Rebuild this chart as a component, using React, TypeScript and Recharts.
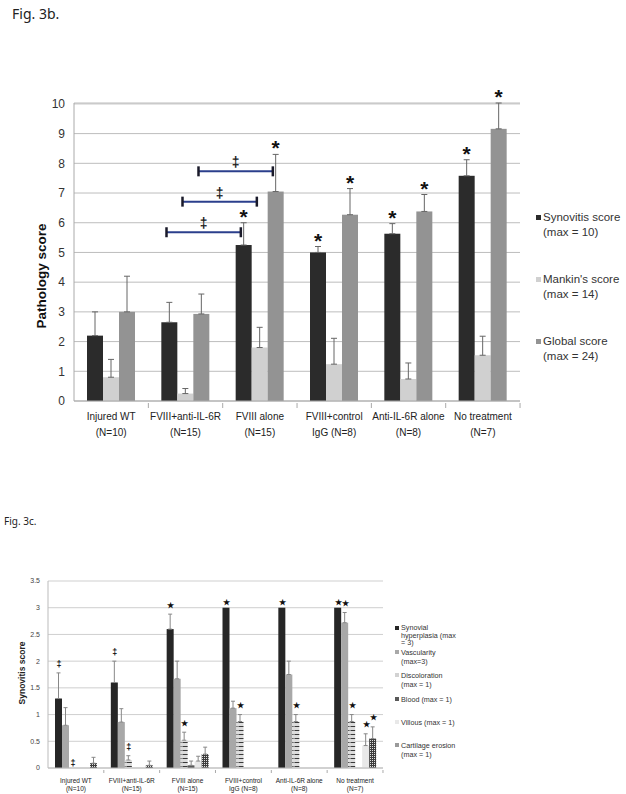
import React from 'react'
import {
  BarChart, Bar, XAxis, YAxis, CartesianGrid, ErrorBar, Legend, ReferenceLine,
} from 'recharts'

const groups = ['Injured WT', 'FVIII+anti-IL-6R', 'FVIII alone', 'FVIII+control', 'Anti-IL-6R alone', 'No treatment']
const groupSizes = ['(N=10)', '(N=15)', '(N=15)', 'IgG (N=8)', '(N=8)', '(N=7)']

// Fig. 3b – pathology scores (mean, upper SEM)
const synovitis = [2.2, 2.65, 5.25, 5.0, 5.63, 7.58]
const synovitisErr = [0.8, 0.67, 0.75, 0.2, 0.34, 0.54]
const mankin = [0.8, 0.25, 1.8, 1.24, 0.74, 1.54]
const mankinErr = [0.6, 0.17, 0.68, 0.87, 0.54, 0.64]
const globalScore = [3.0, 2.93, 7.05, 6.27, 6.38, 9.16]
const globalErr = [1.2, 0.67, 1.25, 0.88, 0.57, 0.87]
const synovitisMarks = ['', '', '*', '*', '*', '*']
const mankinMarks = ['', '', '', '', '', '']
const globalMarks = ['', '', '*', '*', '*', '*']
const pathologyTicks = [0, 1, 2, 3, 4, 5, 6, 7, 8, 9, 10]

// ‡ brackets: FVIII+anti-IL-6R vs FVIII alone, one per score
const bracketFrom = 'FVIII+anti-IL-6R'
const bracketTo = 'FVIII alone'
const bracketLevels = [5.68, 6.71, 7.73]

// Fig. 3c – synovitis sub-scores
const hyperplasia = [1.3, 1.6, 2.6, 3.0, 3.0, 3.0]
const hyperplasiaErr = [0.48, 0.4, 0.28, 0, 0, 0]
const vascularity = [0.8, 0.86, 1.67, 1.12, 1.75, 2.72]
const vascularityErr = [0.33, 0.25, 0.33, 0.13, 0.25, 0.19]
const discoloration = [0, 0.15, 0.52, 0.87, 0.87, 0.87]
const discolorationErr = [0, 0.08, 0.15, 0.13, 0.13, 0.13]
const blood = [0, 0, 0.05, 0, 0, 0]
const bloodErr = [0, 0, 0.08, 0, 0, 0]
const villous = [0, 0, 0.13, 0, 0, 0.42]
const villousErr = [0, 0, 0.09, 0, 0, 0.22]
const erosion = [0.09, 0.05, 0.26, 0, 0, 0.55]
const erosionErr = [0.11, 0.08, 0.13, 0, 0, 0.22]
const hyperplasiaMarks = ['‡', '‡', '★', '★', '★', '★']
const vascularityMarks = ['', '', '', '', '', '★']
const discolorationMarks = ['‡', '‡', '★', '★', '★', '★']
const bloodMarks = ['', '', '', '', '', '']
const villousMarks = ['', '', '', '', '', '★']
const erosionMarks = ['', '', '', '', '', '★']
const synovitisTicks = [0, 0.5, 1, 1.5, 2, 2.5, 3, 3.5]

const legend3b = [['Synovitis score', '(max = 10)'], ["Mankin's score", '(max = 14)'], ['Global score', '(max = 24)']]
const legend3c = [
  ['Synovial', 'hyperplasia (max', '= 3)'], ['Vascularity', '(max=3)'], ['Discoloration', '(max = 1)'],
  ['Blood (max = 1)'], ['Villous (max = 1)'], ['Cartilage erosion', '(max = 1)'],
]

const err = (e: number) => (e > 0 ? [0, e] : null)

const data3b = groups.map((name, i) => ({
  name,
  syn: synovitis[i], synErr: err(synovitisErr[i]), synMark: synovitisMarks[i],
  man: mankin[i], manErr: err(mankinErr[i]), manMark: mankinMarks[i],
  glo: globalScore[i], gloErr: err(globalErr[i]), gloMark: globalMarks[i],
}))

const data3c = groups.map((name, i) => ({
  name,
  hyp: hyperplasia[i], hypErr: err(hyperplasiaErr[i]), hypMark: hyperplasiaMarks[i],
  vas: vascularity[i], vasErr: err(vascularityErr[i]), vasMark: vascularityMarks[i],
  dis: discoloration[i], disErr: err(discolorationErr[i]), disMark: discolorationMarks[i],
  blo: blood[i], bloErr: err(bloodErr[i]), bloMark: bloodMarks[i],
  vil: villous[i], vilErr: err(villousErr[i]), vilMark: villousMarks[i],
  ero: erosion[i], eroErr: err(erosionErr[i]), eroMark: erosionMarks[i],
}))

const FONT = '"Liberation Sans", Arial, sans-serif'

// bar rect plus its significance mark above the error cap
function markedBar(key: string, big: boolean) {
  return (props: any) => {
    const { x, y, width, height, fill, payload } = props
    const v = payload[key]
    const e = payload[key + 'Err']
    const mark = payload[key + 'Mark']
    const ppu = v > 0 ? height / v : 0
    const top = y - (e ? e[1] : 0) * ppu
    const cx = x + width / 2
    return (
      <g>
        {height > 0 && <rect x={x} y={y} width={width} height={height} fill={fill} />}
        {mark && big && (
          <text x={cx} y={top + 1} textAnchor="middle" fontSize={21} fontWeight="bold" fill="#111" fontFamily={FONT}>{mark}</text>
        )}
        {mark && !big && (
          <text x={cx + 0.5} y={top - (e ? 9 : 5)} textAnchor="middle" dominantBaseline="central"
            fontSize={mark === '‡' ? 9 : 8} fontWeight="bold" fill="#111" fontFamily={FONT}>{mark}</text>
        )}
      </g>
    )
  }
}

function bracket(shift: number) {
  return (props: any) => {
    const { x1, y1, x2 } = props
    const a = x1 + shift
    const b = x2 + shift
    return (
      <g>
        <line x1={a} x2={b} y1={y1} y2={y1} stroke="#2b3f8c" strokeWidth={2} />
        <line x1={a} x2={a} y1={y1 - 5} y2={y1 + 5} stroke="#1a1a2a" strokeWidth={2.5} />
        <line x1={b} x2={b} y1={y1 - 5} y2={y1 + 5} stroke="#1a1a2a" strokeWidth={2.5} />
        <text x={(a + b) / 2} y={y1 - 9} textAnchor="middle" dominantBaseline="central" fontSize={14} fontWeight="bold" fill="#222" fontFamily={FONT}>‡</text>
      </g>
    )
  }
}

function categoryTick(half: number, fontSize: number, dy1: number, dy2: number, tick: number) {
  return (props: any) => {
    const { x, y, payload, index } = props
    return (
      <g>
        <line x1={x + half} x2={x + half} y1={y} y2={y + tick} stroke="#aaa" />
        <text x={x} y={y} textAnchor="middle" fontSize={fontSize} fill="#222" fontFamily={FONT}>
          <tspan x={x} dy={dy1}>{payload.value}</tspan>
          <tspan x={x} dy={dy2}>{groupSizes[index]}</tspan>
        </text>
      </g>
    )
  }
}

const swatch3b = ['#2b2b2b', '#d0d0d0', '#939393']
const swatch3c = ['#262626', '#a8a8a8', '#d2d2d2', '#595959', '#e8e8e8', '#9a9a9a']

function Legend3b() {
  return (
    <div style={{ position: 'relative', fontFamily: FONT, fontSize: 11.5, color: '#333' }}>
      {legend3b.map((lines, i) => (
        <div key={i} style={{ position: 'absolute', left: 0, top: i * 62, lineHeight: '15px' }}>
          <span style={{ position: 'absolute', left: 0, top: 5, width: 5, height: 5, background: swatch3b[i] }} />
          {lines.map((l, j) => <div key={j} style={{ paddingLeft: 7, whiteSpace: 'nowrap' }}>{l}</div>)}
        </div>
      ))}
    </div>
  )
}

function Legend3c() {
  return (
    <div style={{ position: 'relative', fontFamily: FONT, fontSize: 7.2, color: '#333' }}>
      {legend3c.map((lines, i) => (
        <div key={i} style={{ position: 'absolute', left: 0, top: i * 23.2 + (i > 0 ? 1 : 0), lineHeight: i === 0 ? '7.6px' : '9px' }}>
          <span style={{ position: 'absolute', left: 0, top: 2, width: 4, height: 4, background: swatch3c[i] }} />
          {lines.map((l, j) => <div key={j} style={{ paddingLeft: 6, whiteSpace: 'nowrap' }}>{l}</div>)}
        </div>
      ))}
    </div>
  )
}

export default function App() {
  return (
    <div style={{ position: 'absolute', left: 0, top: 0, width: 626, height: 794, background: '#fff', overflow: 'hidden' }}>
      <div style={{ position: 'absolute', left: 12, top: 4, fontFamily: '"Noto Sans", sans-serif', fontSize: 14, color: '#222' }}>Fig. 3b.</div>
      <div style={{ position: 'absolute', left: 0, top: 0 }}>
        <BarChart width={626} height={450} data={data3b} barSize={16} barGap={0}
          margin={{ top: 103, right: 106, bottom: 9, left: 34 }}>
          <CartesianGrid vertical={false} stroke="#bdbdbd" />
          <XAxis dataKey="name" height={40} tickSize={0} axisLine={{ stroke: '#aaa' }}
            tick={categoryTick(37.2, 10, 17, 15.5, 5)} interval={0} />
          <YAxis width={40} domain={[0, 10]} ticks={pathologyTicks} tickSize={0} tickMargin={9}
            axisLine={{ stroke: '#aaa' }} tick={{ fontSize: 12, fill: '#333', fontFamily: FONT }}
            label={{
              content: () => (
                <text transform="translate(41 276) rotate(-90)" textAnchor="middle" dominantBaseline="central"
                  fontSize={13.5} fontWeight="bold" fill="#111" fontFamily={FONT}>Pathology score</text>
              ),
            }} />
          <Legend verticalAlign="middle" content={() => <Legend3b />}
            wrapperStyle={{ left: 536, top: 210, width: 90, height: 150 }} />
          <Bar dataKey="syn" name="Synovitis score (max = 10)" fill={swatch3b[0]} isAnimationActive={false} shape={markedBar('syn', true)}>
            <ErrorBar dataKey="synErr" width={3} stroke="#666" strokeWidth={1} />
          </Bar>
          <Bar dataKey="man" name="Mankin's score (max = 14)" fill={swatch3b[1]} isAnimationActive={false} shape={markedBar('man', true)}>
            <ErrorBar dataKey="manErr" width={3} stroke="#666" strokeWidth={1} />
          </Bar>
          <Bar dataKey="glo" name="Global score (max = 24)" fill={swatch3b[2]} isAnimationActive={false} shape={markedBar('glo', true)}>
            <ErrorBar dataKey="gloErr" width={3} stroke="#666" strokeWidth={1} />
          </Bar>
          {bracketLevels.map((lvl, i) => (
            <ReferenceLine key={i} segment={[{ x: bracketFrom, y: lvl }, { x: bracketTo, y: lvl }]}
              ifOverflow="visible" shape={bracket((i - 1) * 16 - 3)} />
          ))}
        </BarChart>
      </div>

      <div style={{ position: 'absolute', left: 4, top: 514, fontFamily: '"Noto Sans", sans-serif', fontSize: 10, color: '#222' }}>Fig. 3c.</div>
      <div style={{ position: 'absolute', left: 0, top: 520 }}>
        <BarChart width={626} height={274} data={data3c} barSize={7} barGap={0}
          margin={{ top: 61, right: 243, bottom: 4, left: 28 }}>
          <defs>
            <pattern id="stripes" patternUnits="userSpaceOnUse" width={7} height={4}>
              <rect width={7} height={4} fill="#dcdcdc" />
              <rect x={0.5} y={2} width={6} height={1} fill="#3a3a3a" />
            </pattern>
            <pattern id="grid" patternUnits="userSpaceOnUse" width={2} height={2}>
              <rect width={2} height={2} fill="#3c3c3c" />
              <rect width={1} height={1} fill="#e0e0e0" />
            </pattern>
          </defs>
          <CartesianGrid vertical={false} stroke="#cfcfcf" />
          <XAxis dataKey="name" height={22} tickSize={0} axisLine={{ stroke: '#bbb' }}
            tick={categoryTick(27.9, 6.5, 12.5, 8.5, 3)} interval={0} />
          <YAxis width={20} domain={[0, 3.5]} ticks={synovitisTicks} tickSize={0} tickMargin={8}
            axisLine={{ stroke: '#bbb' }} tick={{ fontSize: 7, fill: '#444', fontFamily: FONT }}
            label={{
              content: () => (
                <text transform="translate(22 153) rotate(-90)" textAnchor="middle" dominantBaseline="central"
                  fontSize={8.5} fontWeight="bold" fill="#222" fontFamily={FONT}>Synovitis score</text>
              ),
            }} />
          <Legend verticalAlign="middle" content={() => <Legend3c />}
            wrapperStyle={{ left: 395, top: 104, width: 100, height: 150 }} />
          <Bar dataKey="hyp" name="Synovial hyperplasia (max = 3)" fill={swatch3c[0]} isAnimationActive={false} shape={markedBar('hyp', false)}>
            <ErrorBar dataKey="hypErr" width={2} stroke="#888" strokeWidth={1} />
          </Bar>
          <Bar dataKey="vas" name="Vascularity (max=3)" fill={swatch3c[1]} isAnimationActive={false} shape={markedBar('vas', false)}>
            <ErrorBar dataKey="vasErr" width={2} stroke="#888" strokeWidth={1} />
          </Bar>
          <Bar dataKey="dis" name="Discoloration (max = 1)" fill="url(#stripes)" isAnimationActive={false} shape={markedBar('dis', false)}>
            <ErrorBar dataKey="disErr" width={2} stroke="#888" strokeWidth={1} />
          </Bar>
          <Bar dataKey="blo" name="Blood (max = 1)" fill={swatch3c[3]} isAnimationActive={false} shape={markedBar('blo', false)}>
            <ErrorBar dataKey="bloErr" width={2} stroke="#888" strokeWidth={1} />
          </Bar>
          <Bar dataKey="vil" name="Villous (max = 1)" fill={swatch3c[4]} isAnimationActive={false} shape={markedBar('vil', false)}>
            <ErrorBar dataKey="vilErr" width={2} stroke="#888" strokeWidth={1} />
          </Bar>
          <Bar dataKey="ero" name="Cartilage erosion (max = 1)" fill="url(#grid)" isAnimationActive={false} shape={markedBar('ero', false)}>
            <ErrorBar dataKey="eroErr" width={2} stroke="#888" strokeWidth={1} />
          </Bar>
        </BarChart>
      </div>
    </div>
  )
}
